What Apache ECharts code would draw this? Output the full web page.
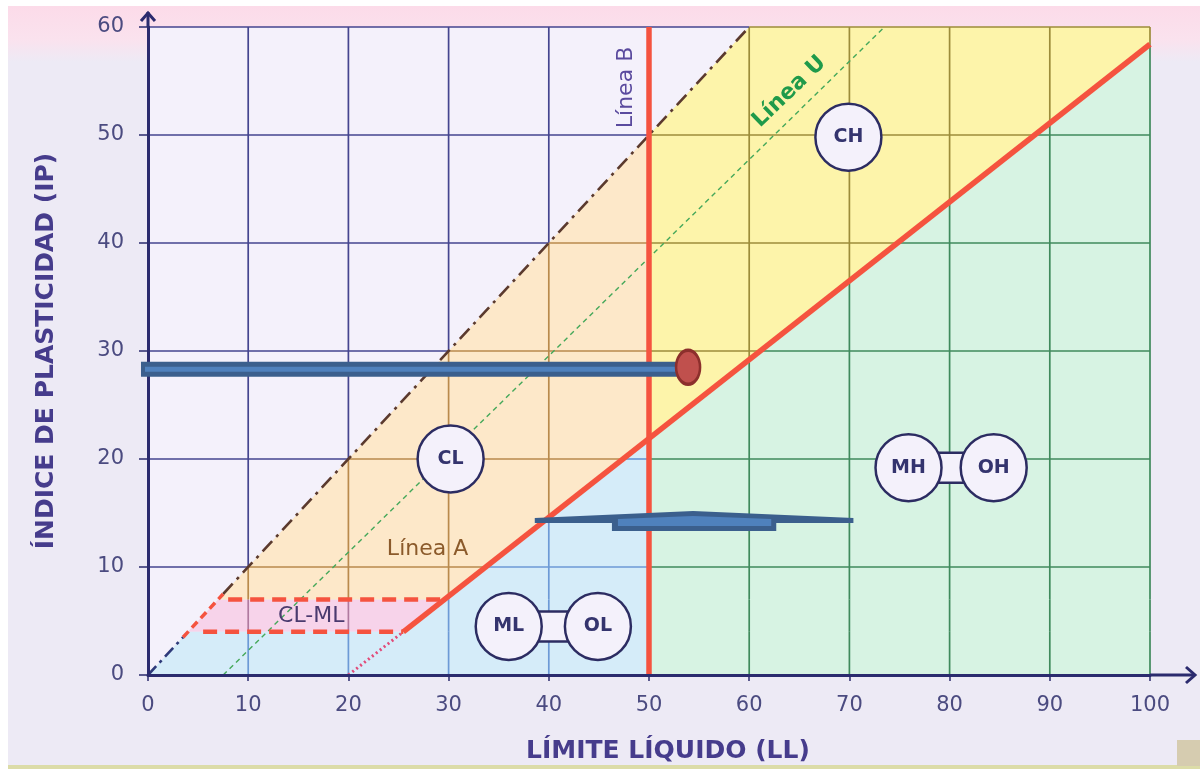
<!DOCTYPE html>
<html><head><meta charset="utf-8">
<script src="https://cdn.jsdelivr.net/npm/echarts@6/dist/echarts.min.js"></script>
<style>html,body{margin:0;padding:0;background:#fff}#c{width:1200px;height:769px}</style>
</head><body><div id="c"></div>
<script>
// ---------- data (LL = x, IP = y) ----------
const xTicks = [0,10,20,30,40,50,60,70,80,90,100];
const yTicks = [0,10,20,30,40,50,60];

// zones of the plasticity chart
const zoneNames  = ['above', 'CL-ML', 'CL', 'ML-OL', 'CH', 'MH-OH'];
const zoneAbove  = [[0,0],[0,60],[60,60]];
const zoneBand   = [[4,4],[7,7],[29.59,7],[25.48,4]];
const zoneCL     = [[7,7],[50,50],[50,21.9],[29.59,7]];
const zoneML     = [[0,0],[4,4],[25.48,4],[50,21.9],[50,0]];
const zoneCH     = [[50,50],[60,60],[100,60],[100,58.4],[50,21.9]];
const zoneMH     = [[50,0],[50,21.9],[100,58.4],[100,0]];

// reference lines
const lineA        = [[25.48,4],[100,58.4]];
const lineADotted  = [[20,0],[25.48,4]];
const lineB        = [[50,0],[50,60]];
const upperLow     = [[0,0],[3.5,3.5]];
const upperRed     = [[3.5,3.5],[7.5,7.5]];
const upperHigh    = [[7.5,7.5],[60,60]];
const lineU        = [[7.5,0],[73.5,60]];
const bandTop      = [[8,7],[29.59,7]];
const bandBottom   = [[5.5,4],[25.48,4]];

// group symbols
const symbolNames = ['CL','CH','ML','OL','MH','OH'];
const symbolLL    = [30.2, 69.9, 36.0, 44.9, 75.9, 84.4];
const symbolIP    = [20.0, 49.8, 4.5, 4.5, 19.2, 19.2];
const symbolPairs = [['ML','OL'],['MH','OH']];

// text labels
const textNames = ['CL-ML','Línea A','Línea B','Línea U'];
const textLL    = [16.3, 27.9, 47.7, 64.0];
const textIP    = [5.4, 11.6, 54.4, 54.0];
const textRot   = [0, 0, 90, 44];

// overlay annotations
const arrowPath  = [[-0.7,28.3],[53.2,28.3]];
const arrowDot   = [[53.9,28.5]];
const bumpOuter  = [[38.6,14.54],[54.4,15.19],[70.4,14.54],[70.4,14.07],[62.7,14.07],[62.7,13.33],[46.3,13.33],[46.3,14.07],[38.6,14.07]];
const bumpInner  = [[46.9,14.44],[54.4,14.72],[62.2,14.44],[62.2,13.8],[46.9,13.8]];

// ---------- styling ----------
const zoneColors = ['#f4f1fb','#f7d3ea','#fde8c9','#d5ecf9','#fdf4aa','#d7f3e3'];
const gridColors = {above:'#45458f', band:'#b07aa0', CL:'#b98a4c', ML:'#6d9ad6', CH:'#9c8c3a', MH:'#3f8a5c'};
const navy = '#2b2b6e';
const red = '#f5533f';

const slopeA = (lineA[1][1]-lineA[0][1])/(lineA[1][0]-lineA[0][0]);
function aAt(x){ return lineA[0][1] + (x-lineA[0][0])*slopeA; }
function aInv(y){ return lineA[0][0] + (y-lineA[0][1])/slopeA; }
function zoneOf(x,y){
  if (y > x) return 'above';
  if (x < 50){
    if (y > aAt(x)){ if (y > zoneBand[1][1]) return 'CL'; if (y > zoneBand[0][1]) return 'band'; return 'ML'; }
    return 'ML';
  }
  return y > aAt(x) ? 'CH' : 'MH';
}
// split grid lines into pieces by zone
const gridSegs = [];
const xMax = xTicks[xTicks.length-1], yMax = yTicks[yTicks.length-1];
xTicks.slice(1).forEach(c=>{
  let s = [0, yMax, c, aAt(c), zoneBand[0][1], zoneBand[1][1]].filter(v=>v>=0 && v<=yMax);
  s = Array.from(new Set(s)).sort((a,b)=>a-b);
  for (let i=0;i<s.length-1;i++){ const m=(s[i]+s[i+1])/2; gridSegs.push([[c,s[i]],[c,s[i+1]],gridColors[zoneOf(c,m)]]); }
});
yTicks.slice(1).forEach(c=>{
  let s = [0, xMax, c, 50, aInv(c)].filter(v=>v>=0 && v<=xMax);
  s = Array.from(new Set(s)).sort((a,b)=>a-b);
  for (let i=0;i<s.length-1;i++){ const m=(s[i]+s[i+1])/2; gridSegs.push([[s[i],c],[s[i+1],c],gridColors[zoneOf(m,c)]]); }
});

function polySeries(polys, styles, z){
  return {type:'custom', coordinateSystem:'cartesian2d', silent:true, clip:false, z:z,
    data: polys.map((p,i)=>[i]),
    renderItem(params, api){
      const i = params.dataIndex;
      return {type:'polygon', shape:{points: polys[i].map(pt=>api.coord(pt))}, style: styles[i]};
    }};
}
function lineSeries(data, color, width, type, z){
  return {type:'line', data:data, showSymbol:false, symbol:'none', silent:true, clip:false, z:z,
    lineStyle:{color:color, width:width, type:type, cap:'butt'}};
}

const chart = echarts.init(document.getElementById('c'));
const font = 'DejaVu Sans';
chart.setOption({
  animation:false,
  backgroundColor:'#ffffff',
  graphic:[
    {type:'rect', z:-100, shape:{x:8,y:6,width:1192,height:760}, style:{fill:'#edeaf5'}},
    {type:'rect', z:-99, shape:{x:8,y:6,width:1192,height:56}, style:{fill:new echarts.graphic.LinearGradient(0,0,0,1,[{offset:0,color:'#fcdbe9'},{offset:0.6,color:'#fae2ee'},{offset:1,color:'#edeaf5'}])}},
    {type:'rect', z:-98, shape:{x:8,y:765,width:1192,height:4}, style:{fill:'#dcdca8'}},
    {type:'rect', z:-97, shape:{x:1177,y:740,width:23,height:26}, style:{fill:'#d6ccb0'}}
  ],
  grid:{left:148, right:50, top:27, bottom:94, containLabel:false, outerBoundsMode:'none'},
  xAxis:{type:'value', min:0, max:100, interval:10, z:10,
    axisLine:{show:true, onZero:false, lineStyle:{color:navy, width:3}},
    axisTick:{show:true, length:6, lineStyle:{color:navy, width:1.5}},
    splitLine:{show:false},
    axisLabel:{color:'#4b4b80', fontSize:21, fontFamily:font, margin:20},
    name:'LÍMITE LÍQUIDO (LL)', nameLocation:'middle', nameGap:64,
    nameTextStyle:{color:'#463c8c', fontSize:25, fontWeight:'bold', fontFamily:font, padding:[0,0,0,38]}
  },
  yAxis:{type:'value', min:0, max:60, interval:10, z:10,
    axisLine:{show:true, onZero:false, lineStyle:{color:navy, width:3}},
    axisTick:{show:true, length:9, lineStyle:{color:navy, width:1.5}},
    splitLine:{show:false},
    axisLabel:{color:'#4b4b80', fontSize:21, fontFamily:font, margin:24},
    name:'ÍNDICE DE PLASTICIDAD (IP)', nameLocation:'middle', nameGap:89, nameRotate:90,
    nameTextStyle:{color:'#463c8c', fontSize:25, fontWeight:'bold', fontFamily:font}
  },
  series:[
    // zones
    polySeries([zoneAbove, zoneBand, zoneCL, zoneML, zoneCH, zoneMH], zoneColors.map(c=>({fill:c})), 1),
    // grid lines coloured by zone
    {type:'custom', coordinateSystem:'cartesian2d', silent:true, clip:false, z:2,
      data: gridSegs.map((s,i)=>[i]),
      renderItem(params, api){
        const s = gridSegs[params.dataIndex];
        const p1 = api.coord(s[0]), p2 = api.coord(s[1]);
        return {type:'line', shape:{x1:p1[0],y1:p1[1],x2:p2[0],y2:p2[1]}, style:{stroke:s[2], lineWidth:1.7}};
      }},
    // reference lines
    lineSeries(lineU, '#45a85a', 1.4, [5,4], 3),
    lineSeries(upperLow, '#2e3a7a', 2.6, [12,5,3,5], 3),
    lineSeries(upperHigh, '#5b3a2e', 2.6, [14,6,3,6], 3),
    lineSeries(upperRed, red, 3.5, [8,5], 3),
    lineSeries(lineADotted, '#e24a78', 3, [2,3], 3),
    lineSeries(bandTop, red, 4.5, [14,8], 3),
    lineSeries(bandBottom, red, 4.5, [14,8], 3),
    lineSeries(lineB, red, 5.5, 'solid', 4),
    lineSeries(lineA, red, 5.5, 'solid', 4),
    // connectors between paired symbols
    {type:'custom', coordinateSystem:'cartesian2d', silent:true, clip:false, z:5,
      data: symbolPairs.map((p,i)=>[i]),
      renderItem(params, api){
        const pr = symbolPairs[params.dataIndex];
        const a = symbolNames.indexOf(pr[0]), b = symbolNames.indexOf(pr[1]);
        const p1 = api.coord([symbolLL[a], symbolIP[a]]), p2 = api.coord([symbolLL[b], symbolIP[b]]);
        return {type:'rect', shape:{x:p1[0], y:p1[1]-15, width:p2[0]-p1[0], height:30}, style:{fill:'#f4f1fb', stroke:'#2c2c62', lineWidth:2.5}};
      }},
    // symbol circles
    {type:'scatter', z:6, silent:true, clip:false, symbol:'circle', symbolSize:[66,67],
      itemStyle:{color:'#f4f1fb', borderColor:'#2c2c62', borderWidth:2.5, opacity:1},
      label:{show:true, position:'inside', formatter:'{b}', color:'#34346e', fontSize:19, fontWeight:'bold', fontFamily:font},
      data: symbolNames.map((n,i)=>({name:n, value:[symbolLL[i], symbolIP[i]]}))},
    // text labels
    {type:'custom', coordinateSystem:'cartesian2d', silent:true, clip:false, z:7,
      data: textNames.map((t,i)=>[i]),
      renderItem(params, api){
        const i = params.dataIndex;
        const p = api.coord([textLL[i], textIP[i]]);
        const colors = ['#4a3a6e','#8b5a2b','#5a4a9e','#1f9a4a'];
        const weights = ['normal','normal','normal','bold'];
        return {type:'text', x:p[0], y:p[1], rotation: textRot[i]*Math.PI/180,
          style:{text:textNames[i], fill:colors[i], font: weights[i]+' 22px "DejaVu Sans"', textAlign:'center', textVerticalAlign:'middle'}};
      }},
    // axis arrow heads
    {type:'custom', coordinateSystem:'cartesian2d', silent:true, clip:false, z:12,
      data:[[0]],
      renderItem(params, api){
        const t = api.coord([0, yMax]), r = api.coord([xMax, 0]);
        const st = {stroke:navy, lineWidth:3, fill:null};
        return {type:'group', children:[
          {type:'line', shape:{x1:t[0],y1:t[1],x2:t[0],y2:t[1]-15}, style:st},
          {type:'polyline', shape:{points:[[t[0]-7,t[1]-6],[t[0],t[1]-14],[t[0]+7,t[1]-6]]}, style:st},
          {type:'line', shape:{x1:r[0],y1:r[1],x2:r[0]+45,y2:r[1]}, style:st},
          {type:'polyline', shape:{points:[[r[0]+36,r[1]-8],[r[0]+45,r[1]],[r[0]+36,r[1]+8]]}, style:st}
        ]};
      }},
    // overlay: horizontal arrow
    lineSeries(arrowPath, '#3b5f8d', 15, 'solid', 20),
    lineSeries(arrowPath, '#4f81bd', 5, 'solid', 21),
    {type:'scatter', z:22, silent:true, clip:false, symbol:'circle', symbolSize:[24,34],
      itemStyle:{color:'#c0504d', borderColor:'#8c2f2c', borderWidth:3, opacity:1}, data: arrowDot},
    // overlay: flat bump shape
    polySeries([bumpOuter, bumpInner], [{fill:'#3b5f8d'},{fill:'#4f81bd'}], 20)
  ]
});
</script></body></html>
